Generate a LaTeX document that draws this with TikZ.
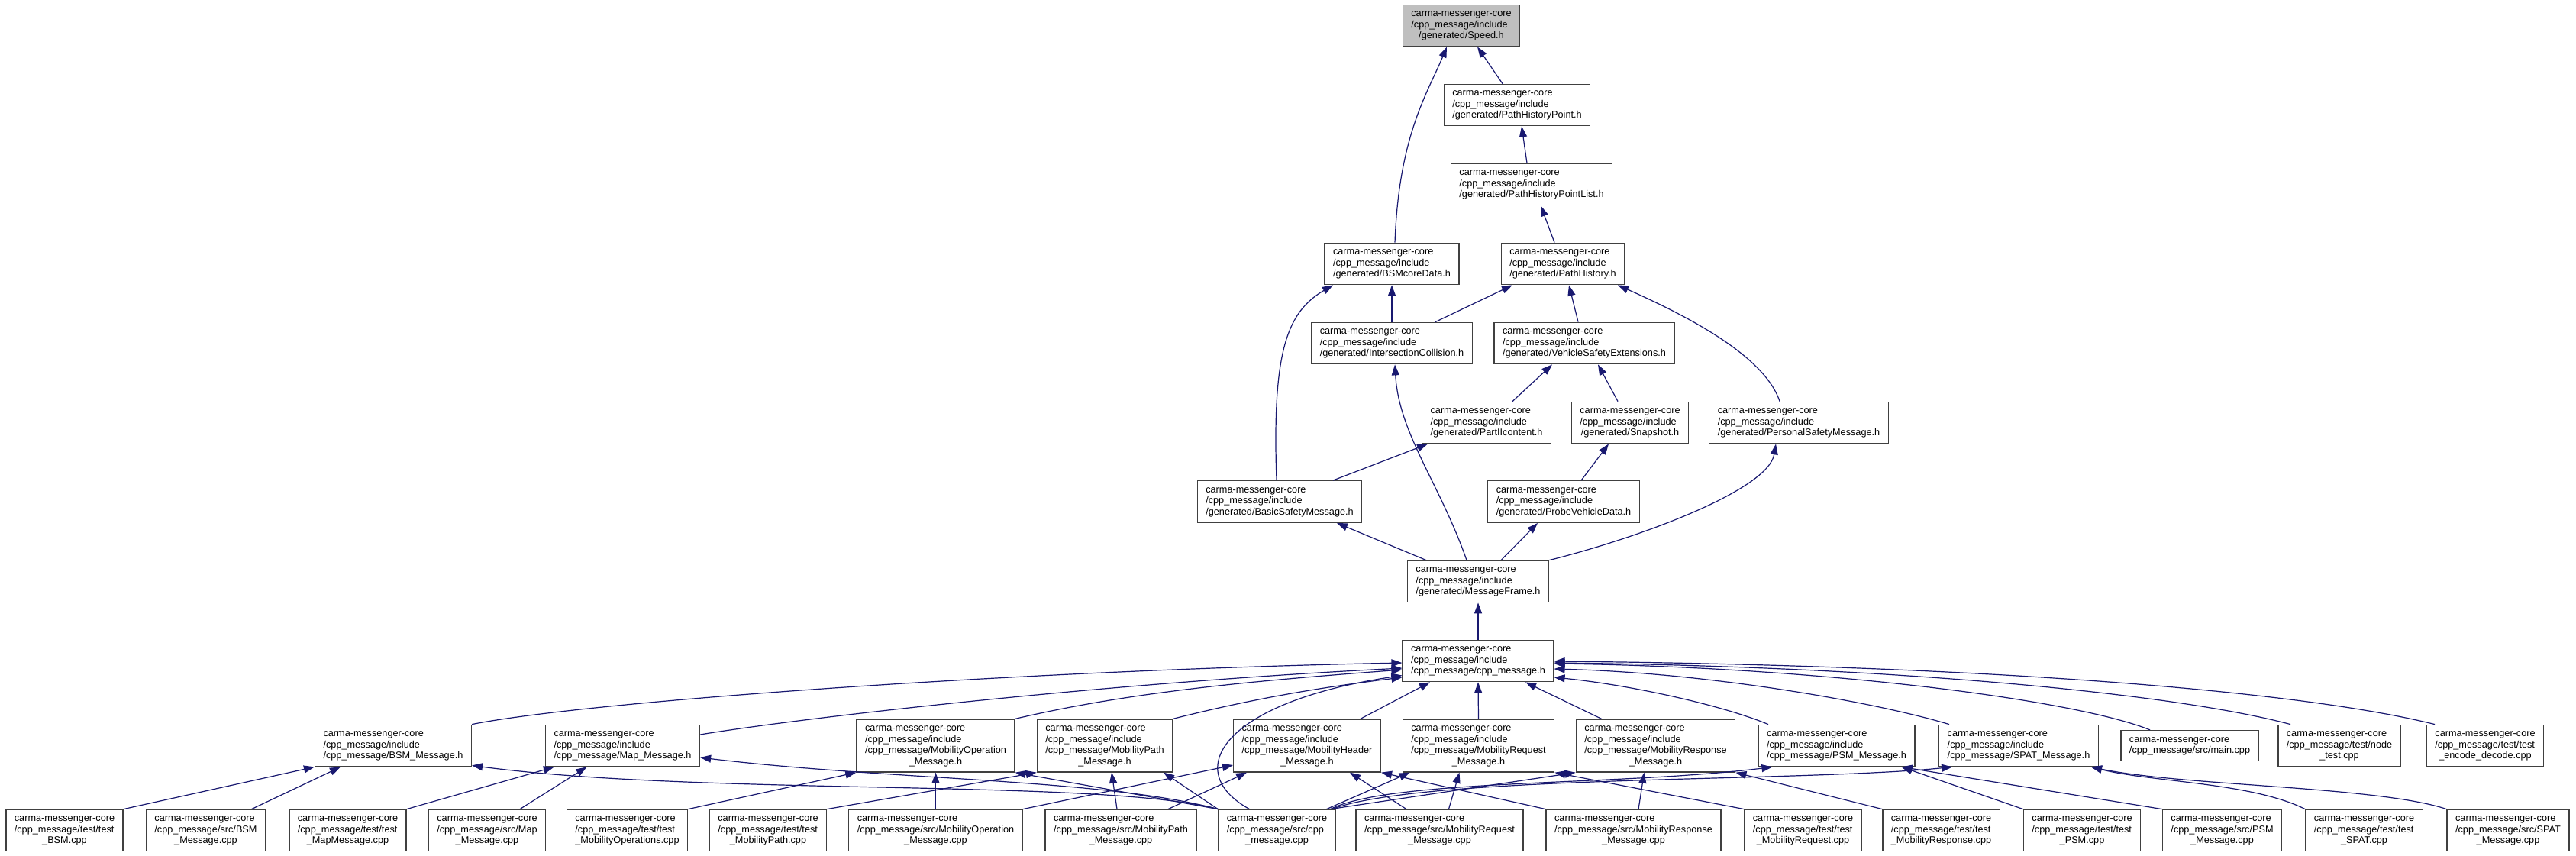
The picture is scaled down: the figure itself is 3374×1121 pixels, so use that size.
\documentclass[tikz,border=0pt]{standalone}
\usepackage{fontspec}
\setmainfont{Liberation Sans}
\usepackage{tikz}
\usetikzlibrary{arrows.meta}
\definecolor{depblue}{RGB}{25,25,112}
\definecolor{boxline}{RGB}{64,64,64}
\definecolor{curfill}{RGB}{191,191,191}
\newcommand{\flab}[2]{\begin{tabular}{@{}l@{}}#1\\\multicolumn{1}{@{}c@{}}{#2}\end{tabular}}

\begin{document}
\begin{tikzpicture}[x=1pt, y=-1pt,
  fbox/.style={draw=boxline, line width=1.3pt, fill=white, inner xsep=11pt, inner ysep=5.5pt,
    font=\fontsize{12.7}{14.5}\selectfont},
  dep/.style={draw=depblue, line width=1.2pt, {Triangle[length=14pt,width=10pt]}-}]
% canvas
\fill[white] (0,0) rectangle (3374,1121);
\useasboundingbox (0,0) rectangle (3374,1121);

% generated headers
\node[fbox, fill=curfill] (speed) at (1914,33.5) {\flab{carma-messenger-core\\/cpp\_message/include}{/generated/Speed.h}};
\node[fbox] (phpoint)  at (1987,137.5) {\flab{carma-messenger-core\\/cpp\_message/include}{/generated/PathHistoryPoint.h}};
\node[fbox] (phplist)  at (2006,241.5) {\flab{carma-messenger-core\\/cpp\_message/include}{/generated/PathHistoryPointList.h}};
\node[fbox] (bsmcore)  at (1823,345.5) {\flab{carma-messenger-core\\/cpp\_message/include}{/generated/BSMcoreData.h}};
\node[fbox] (pathhist) at (2047,345.5) {\flab{carma-messenger-core\\/cpp\_message/include}{/generated/PathHistory.h}};
\node[fbox] (intcoll)  at (1823,449.5) {\flab{carma-messenger-core\\/cpp\_message/include}{/generated/IntersectionCollision.h}};
\node[fbox] (vse)      at (2075,449.5) {\flab{carma-messenger-core\\/cpp\_message/include}{/generated/VehicleSafetyExtensions.h}};
\node[fbox] (part2)    at (1947,553.5) {\flab{carma-messenger-core\\/cpp\_message/include}{/generated/PartIIcontent.h}};
\node[fbox] (snapshot) at (2135,553.5) {\flab{carma-messenger-core\\/cpp\_message/include}{/generated/Snapshot.h}};
\node[fbox] (psm)      at (2356,553.5) {\flab{carma-messenger-core\\/cpp\_message/include}{/generated/PersonalSafetyMessage.h}};
\node[fbox] (basicsm)  at (1676,657)   {\flab{carma-messenger-core\\/cpp\_message/include}{/generated/BasicSafetyMessage.h}};
\node[fbox] (probe)    at (2048,657)   {\flab{carma-messenger-core\\/cpp\_message/include}{/generated/ProbeVehicleData.h}};
\node[fbox] (msgframe) at (1936,761.5) {\flab{carma-messenger-core\\/cpp\_message/include}{/generated/MessageFrame.h}};
\node[fbox] (cppmsgh)  at (1936,865.5) {\flab{carma-messenger-core\\/cpp\_message/include}{/cpp\_message/cpp\_message.h}};

% message headers
\node[fbox] (bsmh)   at (515,976.5)  {\flab{carma-messenger-core\\/cpp\_message/include}{/cpp\_message/BSM\_Message.h}};
\node[fbox] (maph)   at (815.5,976.5) {\flab{carma-messenger-core\\/cpp\_message/include}{/cpp\_message/Map\_Message.h}};
\node[fbox] (mopmh)  at (1225.5,976.5) {\flab{carma-messenger-core\\/cpp\_message/include\\/cpp\_message/MobilityOperation}{\_Message.h}};
\node[fbox] (mpathh) at (1447,976.5) {\flab{carma-messenger-core\\/cpp\_message/include\\/cpp\_message/MobilityPath}{\_Message.h}};
\node[fbox] (mheadh) at (1712,976.5) {\flab{carma-messenger-core\\/cpp\_message/include\\/cpp\_message/MobilityHeader}{\_Message.h}};
\node[fbox] (mreqh)  at (1936.5,976.5) {\flab{carma-messenger-core\\/cpp\_message/include\\/cpp\_message/MobilityRequest}{\_Message.h}};
\node[fbox] (mresph) at (2168.5,976.5) {\flab{carma-messenger-core\\/cpp\_message/include\\/cpp\_message/MobilityResponse}{\_Message.h}};
\node[fbox] (psmh)   at (2405.5,976.5) {\flab{carma-messenger-core\\/cpp\_message/include}{/cpp\_message/PSM\_Message.h}};
\node[fbox] (spath)  at (2644,976.5) {\flab{carma-messenger-core\\/cpp\_message/include}{/cpp\_message/SPAT\_Message.h}};
\node[fbox] (maincpp)  at (2868,976.5) {\flab{carma-messenger-core}{/cpp\_message/src/main.cpp}};
\node[fbox] (nodetest) at (3064,976.5) {\flab{carma-messenger-core\\/cpp\_message/test/node}{\_test.cpp}};
\node[fbox] (encdec)   at (3255,976.5) {\flab{carma-messenger-core\\/cpp\_message/test/test}{\_encode\_decode.cpp}};

% sources and tests
\node[fbox] (tbsm)   at (84.5,1087.5)  {\flab{carma-messenger-core\\/cpp\_message/test/test}{\_BSM.cpp}};
\node[fbox] (sbsm)   at (269.5,1087.5) {\flab{carma-messenger-core\\/cpp\_message/src/BSM}{\_Message.cpp}};
\node[fbox] (tmap)   at (455.5,1087.5) {\flab{carma-messenger-core\\/cpp\_message/test/test}{\_MapMessage.cpp}};
\node[fbox] (smap)   at (638,1087.5)   {\flab{carma-messenger-core\\/cpp\_message/src/Map}{\_Message.cpp}};
\node[fbox] (tmops)  at (821.5,1087.5) {\flab{carma-messenger-core\\/cpp\_message/test/test}{\_MobilityOperations.cpp}};
\node[fbox] (tmpath) at (1006,1087.5)  {\flab{carma-messenger-core\\/cpp\_message/test/test}{\_MobilityPath.cpp}};
\node[fbox] (smop)   at (1225.5,1087.5) {\flab{carma-messenger-core\\/cpp\_message/src/MobilityOperation}{\_Message.cpp}};
\node[fbox] (smpath) at (1468,1087.5)  {\flab{carma-messenger-core\\/cpp\_message/src/MobilityPath}{\_Message.cpp}};
\node[fbox] (scpp)   at (1672.5,1087.5) {\flab{carma-messenger-core\\/cpp\_message/src/cpp}{\_message.cpp}};
\node[fbox] (smreq)  at (1885.5,1087.5) {\flab{carma-messenger-core\\/cpp\_message/src/MobilityRequest}{\_Message.cpp}};
\node[fbox] (smresp) at (2139.5,1087.5) {\flab{carma-messenger-core\\/cpp\_message/src/MobilityResponse}{\_Message.cpp}};
\node[fbox] (tmreq)  at (2361.5,1087.5) {\flab{carma-messenger-core\\/cpp\_message/test/test}{\_MobilityRequest.cpp}};
\node[fbox] (tmresp) at (2542.5,1087.5) {\flab{carma-messenger-core\\/cpp\_message/test/test}{\_MobilityResponse.cpp}};
\node[fbox] (tpsm)   at (2727,1087.5)  {\flab{carma-messenger-core\\/cpp\_message/test/test}{\_PSM.cpp}};
\node[fbox] (spsm)   at (2910.5,1087.5) {\flab{carma-messenger-core\\/cpp\_message/src/PSM}{\_Message.cpp}};
\node[fbox] (tspat)  at (3096.5,1087.5) {\flab{carma-messenger-core\\/cpp\_message/test/test}{\_SPAT.cpp}};
\node[fbox] (sspat)  at (3285,1087.5)  {\flab{carma-messenger-core\\/cpp\_message/src/SPAT}{\_Message.cpp}};

% includes among generated headers
\draw[dep] ([xshift=21]speed.south) -- ([xshift=-19]phpoint.north);
\draw[dep] ([xshift=-19]speed.south) .. controls +(-25,60) and +(5,-140) .. ([xshift=4]bsmcore.north);
\draw[dep] ([xshift=6]phpoint.south) -- ([xshift=-6]phplist.north);
\draw[dep] ([xshift=12]phplist.south) -- ([xshift=-11]pathhist.north);
\draw[dep] (bsmcore.south) -- (intcoll.north);
\draw[dep] ([xshift=-66]pathhist.south) -- ([xshift=57]intcoll.north);
\draw[dep] ([xshift=8]pathhist.south) -- ([xshift=-8]vse.north);
\draw[dep] ([xshift=72]pathhist.south) .. controls +(90,40) and +(-20,-60) .. ([xshift=-25]psm.north);
\draw[dep] ([xshift=-42]vse.south) -- ([xshift=34]part2.north);
\draw[dep] ([xshift=18]vse.south) -- ([xshift=-16]snapshot.north);
\draw[dep] ([xshift=-77]bsmcore.south) .. controls +(-60,35) and +(-6,-170) .. ([xshift=-4]basicsm.north);
\draw[dep] ([xshift=-77]part2.south) -- ([xshift=70]basicsm.north);
\draw[dep] ([xshift=-28]snapshot.south) -- ([xshift=23]probe.north);
\draw[dep] ([xshift=75]basicsm.south) -- ([xshift=-68]msgframe.north);
\draw[dep] ([xshift=-34]probe.south) -- ([xshift=30]msgframe.north);
\draw[dep] ([xshift=4]intcoll.south) .. controls +(5,90) and +(-35,-100) .. ([xshift=-15]msgframe.north);
\draw[dep] ([xshift=-30]psm.south) .. controls +(-10,60) and +(120,-30) .. (msgframe.north east);
\draw[dep] (msgframe.south) -- (cppmsgh.north);

% includes of cpp_message.h
\draw[dep] ([yshift=-2.5]cppmsgh.west) .. controls +(-500,10) and +(150,-30) .. (bsmh.north east);
\draw[dep] ([yshift=-9.5]cppmsgh.west) .. controls +(-400,20) and +(120,-20) .. ([yshift=14.5]maph.east);
\draw[dep] ([yshift=-11.5]cppmsgh.west) .. controls +(-200,15) and +(150,-35) .. (mopmh.north east);
\draw[dep] ([yshift=-21.5]cppmsgh.west) .. controls +(-120,15) and +(100,-25) .. (mpathh.north east);
\draw[dep] ([yshift=-19]cppmsgh.west) .. controls +(-235,35) and +(-91,-50) .. ([xshift=-36]scpp.north);
\draw[dep] ([xshift=-63]cppmsgh.south) -- ([xshift=70]mheadh.north);
\draw[dep] (cppmsgh.south) -- (mreqh.north);
\draw[dep] ([xshift=62]cppmsgh.south) -- ([xshift=-71]mresph.north);
\draw[dep] ([yshift=-21.5]cppmsgh.east) .. controls +(100,10) and +(-60,-25) .. ([xshift=-89.5]psmh.north);
\draw[dep] ([yshift=-10.5]cppmsgh.east) .. controls +(200,5) and +(-100,-30) .. ([xshift=-91]spath.north);
\draw[dep] ([yshift=-3.5]cppmsgh.east) .. controls +(350,5) and +(-100,-40) .. ([xshift=-52]maincpp.north);
\draw[dep] ([yshift=-2.5]cppmsgh.east) .. controls +(450,5) and +(-150,-40) .. ([xshift=-64]nodetest.north);
\draw[dep] ([yshift=-0.5]cppmsgh.east) .. controls +(550,5) and +(-180,-45) .. ([xshift=-66]encdec.north);

% includes of message headers
\draw[dep] (bsmh.south west) -- (tbsm.north east);
\draw[dep] ([xshift=-69]bsmh.south) -- ([xshift=60]sbsm.north);
\draw[dep] ([yshift=2]bsmh.south east) .. controls +(300,40) and +(-150,-40) .. (scpp.north west);
\draw[dep] ([xshift=12]maph.south west) -- (tmap.north east);
\draw[dep] ([xshift=-47]maph.south) -- ([xshift=43]smap.north);
\draw[dep] ([yshift=-15.5]maph.east) .. controls +(250,30) and +(-150,-40) .. (scpp.north west);
\draw[dep] (mopmh.south west) -- (tmops.north east);
\draw[dep] (mopmh.south) -- (smop.north);
\draw[dep] (mopmh.south east) -- (scpp.north west);
\draw[dep] (mpathh.south west) -- (tmpath.north east);
\draw[dep] ([xshift=9]mpathh.south) -- ([xshift=-5]smpath.north);
\draw[dep] ([xshift=77]mpathh.south) -- (scpp.north west);
\draw[dep] ([yshift=-25.5]mheadh.west) -- (smop.north east);
\draw[dep] ([xshift=18]mheadh.south west) -- ([xshift=62]smpath.north);
\draw[dep] ([xshift=56]mheadh.south) -- ([xshift=-43.5]smreq.north);
\draw[dep] (mheadh.south east) -- (smresp.north west);
\draw[dep] ([xshift=10]mreqh.south west) -- ([xshift=65]scpp.north);
\draw[dep] ([xshift=-25]mreqh.south) -- ([xshift=12]smreq.north);
\draw[dep] (mreqh.south east) -- (tmreq.north west);
\draw[dep] (mresph.south west) -- ([xshift=70]scpp.north);
\draw[dep] ([xshift=-15]mresph.south) -- ([xshift=6.5]smresp.north);
\draw[dep] (mresph.south east) -- (tmresp.north west);
\draw[dep] ([xshift=19]psmh.south west) .. controls +(-200,25) and +(80,-40) .. ([xshift=70]scpp.north);
\draw[dep] ([xshift=-18]psmh.south east) -- (tpsm.north west);
\draw[dep] ([xshift=-18]psmh.south east) -- (spsm.north west);
\draw[dep] ([xshift=18]spath.south west) .. controls +(-200,20) and +(120,-45) .. ([xshift=72]scpp.north);
\draw[dep] ([xshift=-10]spath.south east) .. controls +(80,20) and +(-70,-35) .. (tspat.north west);
\draw[dep] ([xshift=-10]spath.south east) .. controls +(120,25) and +(-90,-30) .. (sspat.north west);
\end{tikzpicture}
\end{document}
